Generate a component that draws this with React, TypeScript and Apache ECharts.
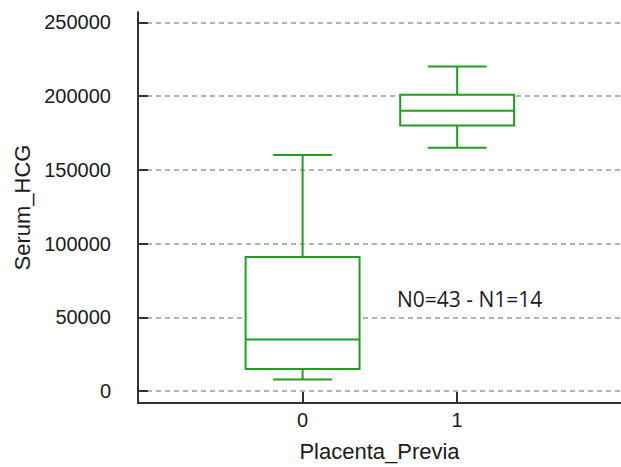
import React, { useEffect, useRef } from "react";
import * as echarts from "echarts";

const groups = [0, 1];
const groupLabels = ["0", "1"];
// [min, q1, median, q3, max]
const boxStats = [
  [8000, 15000, 35000, 91000, 160000],
  [165000, 180000, 190000, 201000, 220000],
];
const yTicks = [0, 50000, 100000, 150000, 200000, 250000];
const annotation = "N0=43 - N1=14";
const xTitle = "Placenta_Previa";
const yTitle = "Serum_HCG";

const GREEN = "#1f9e1f";

export default function App() {
  const ref = useRef<HTMLDivElement>(null);
  useEffect(() => {
    if (!ref.current) return;
    const chart = echarts.init(ref.current, null, { renderer: "svg" });
    const data = groups.map((g, i) => [g, ...boxStats[i]]);
    chart.setOption({
      animation: false,
      grid: { left: 138, top: 12, right: 0, bottom: 64 },
      xAxis: {
        type: "value",
        min: -1.065,
        max: 2.06,
        name: xTitle,
        nameLocation: "middle",
        nameGap: 37,
        nameTextStyle: { fontFamily: "Liberation Sans, Arial", fontSize: 22, color: "#1a1a1a" },
        axisLine: { show: true, onZero: false, lineStyle: { color: "#333", width: 2 } },
        axisTick: {
          show: true,
          inside: true,
          length: 11,
          lineStyle: { color: "#333", width: 2 },
          customValues: groups,
        },
        axisLabel: {
          customValues: groups,
          formatter: (v: number) => groupLabels[groups.indexOf(v)] ?? "",
          fontFamily: "Liberation Sans, Arial",
          fontSize: 20,
          color: "#1a1a1a",
          margin: 7,
        },
        splitLine: { show: false },
      },
      yAxis: {
        type: "value",
        min: -8000,
        max: 257000,
        name: yTitle,
        nameLocation: "middle",
        nameGap: 105,
        nameTextStyle: { fontFamily: "Liberation Sans, Arial", fontSize: 22, color: "#1a1a1a" },
        axisLine: { show: true, onZero: false, lineStyle: { color: "#333", width: 2 } },
        axisTick: {
          show: true,
          inside: true,
          length: 10,
          lineStyle: { color: "#333", width: 2 },
          customValues: yTicks,
        },
        axisLabel: {
          customValues: yTicks,
          formatter: (v: number) => String(v),
          fontFamily: "Liberation Sans, Arial",
          fontSize: 20,
          color: "#1a1a1a",
          margin: 27,
        },
        splitLine: {
          show: true,
          lineStyle: { color: "#999", type: [5, 4], width: 1.5 },
        },
      },
      series: [
        {
          type: "custom",
          data,
          encode: { x: 0, y: [1, 2, 3, 4, 5] },
          renderItem: (params: any, api: any) => {
            const x = api.value(0);
            const mn = api.value(1);
            const q1 = api.value(2);
            const md = api.value(3);
            const q3 = api.value(4);
            const mx = api.value(5);
            const bw = 0.3685;
            const cw = 0.19;
            const pMin = api.coord([x, mn]);
            const pQ1 = api.coord([x, q1]);
            const pMd = api.coord([x, md]);
            const pQ3 = api.coord([x, q3]);
            const pMax = api.coord([x, mx]);
            const xl = api.coord([x - bw, q1])[0];
            const xr = api.coord([x + bw, q1])[0];
            const cl = api.coord([x - cw, q1])[0];
            const cr = api.coord([x + cw, q1])[0];
            const st = { stroke: GREEN, lineWidth: 2, fill: "none" };
            return {
              type: "group",
              children: [
                { type: "rect", shape: { x: xl, y: pQ3[1], width: xr - xl, height: pQ1[1] - pQ3[1] }, style: { ...st, fill: "#fff" } },
                { type: "line", shape: { x1: xl, y1: pMd[1], x2: xr, y2: pMd[1] }, style: st },
                { type: "line", shape: { x1: pQ3[0], y1: pQ3[1], x2: pMax[0], y2: pMax[1] }, style: st },
                { type: "line", shape: { x1: pQ1[0], y1: pQ1[1], x2: pMin[0], y2: pMin[1] }, style: st },
                { type: "line", shape: { x1: cl, y1: pMax[1], x2: cr, y2: pMax[1] }, style: st },
                { type: "line", shape: { x1: cl, y1: pMin[1], x2: cr, y2: pMin[1] }, style: st },
              ],
            };
          },
          z: 3,
        },
      ],
      graphic: [
        {
          type: "text",
          x: 397,
          y: 299,
          style: {
            text: annotation,
            fontFamily: "Open Sans",
            fontSize: 21,
            fill: "#1a1a1a",
            verticalAlign: "middle",
          },
          z: 10,
        },
      ],
    });
    return () => chart.dispose();
  }, []);
  return (
    <div
      ref={ref}
      style={{ position: "absolute", left: 0, top: 0, width: 621, height: 467 }}
    />
  );
}
